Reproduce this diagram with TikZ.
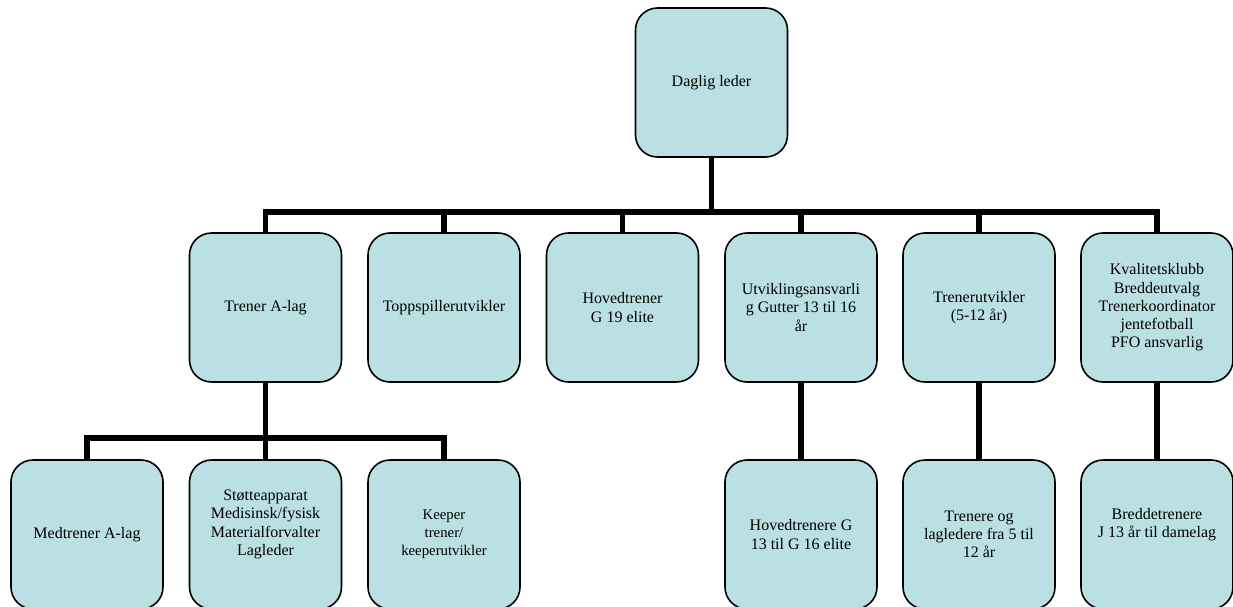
\documentclass[tikz,border=0pt]{standalone}
\usepackage{fontspec}
\setmainfont{Liberation Serif}
\usepackage{tikz}
\newcommand{\boxWidth}{152pt}
\newcommand{\boxHeight}{149pt}
\newcommand{\linkWidth}{5.5pt}
\definecolor{orgfill}{RGB}{187,224,227}

\begin{document}
\begin{tikzpicture}[x=1pt, y=-1pt]
  \tikzset{
    orgbox/.style={draw, line width=1.6pt, fill=orgfill, rounded corners=22pt,
      minimum width=\boxWidth, minimum height=\boxHeight, align=center,
      inner sep=2pt, font=\fontsize{16}{18.3}\selectfont},
    link/.style={line width=\linkWidth}
  }
  \useasboundingbox (0,0) rectangle (1233,607);

  % top
  \node[orgbox] (leder) at (711.5,82.5) {Daglig leder};

  % second row
  \node[orgbox] (alag) at (265.5,307.5) {Trener A-lag};
  \node[orgbox] (topp) at (444,307.5) {Toppspillerutvikler};
  \node[orgbox] (g19) at (622.5,307.5) {Hovedtrener\\G 19 elite};
  \node[orgbox] (utv) at (801,307.5) {Utviklingsansvarli\\g Gutter 13 til 16\\år};
  \node[orgbox] (trutv) at (979,307.5) {Trenerutvikler\\(5-12 år)};
  \node[orgbox] (kval) at (1157,307.5) {Kvalitetsklubb\\Breddeutvalg\\Trenerkoordinator\\jentefotball\\PFO ansvarlig};

  % third row
  \node[orgbox] (med) at (87,534.5) {Medtrener A-lag};
  \node[orgbox] (stotte) at (265.5,534.5) {Støtteapparat\\Medisinsk/fysisk\\Materialforvalter\\Lagleder\\\strut};
  \node[orgbox, font=\fontsize{14.8}{18}\selectfont] (keeper) at (444,534.5) {Keeper\\trener/\\keeperutvikler};
  \node[orgbox] (g1316) at (801,534.5) {Hovedtrenere G\\13 til G 16 elite};
  \node[orgbox] (lagl) at (979,534.5) {Trenere og\\lagledere fra 5 til\\12 år};
  \node[orgbox] (bredde) at (1157,534.5) {Breddetrenere\\J 13 år til damelag\\\strut};

  % links
  \draw[link] (leder.south) -- ++(0,54) -| (alag.north);
  \draw[link] (leder.south) -- ++(0,54) -| (topp.north);
  \draw[link] (leder.south) -- ++(0,54) -| (g19.north);
  \draw[link] (leder.south) -- ++(0,54) -| (utv.north);
  \draw[link] (leder.south) -- ++(0,54) -| (trutv.north);
  \draw[link] (leder.south) -- ++(0,54) -| (kval.north);
  \draw[link] (alag.south) -- ++(0,55) -| (med.north);
  \draw[link] (alag.south) -- ++(0,55) -| (stotte.north);
  \draw[link] (alag.south) -- ++(0,55) -| (keeper.north);
  \draw[link] (utv.south) -- (g1316.north);
  \draw[link] (trutv.south) -- (lagl.north);
  \draw[link] (kval.south) -- (bredde.north);
\end{tikzpicture}
\end{document}
